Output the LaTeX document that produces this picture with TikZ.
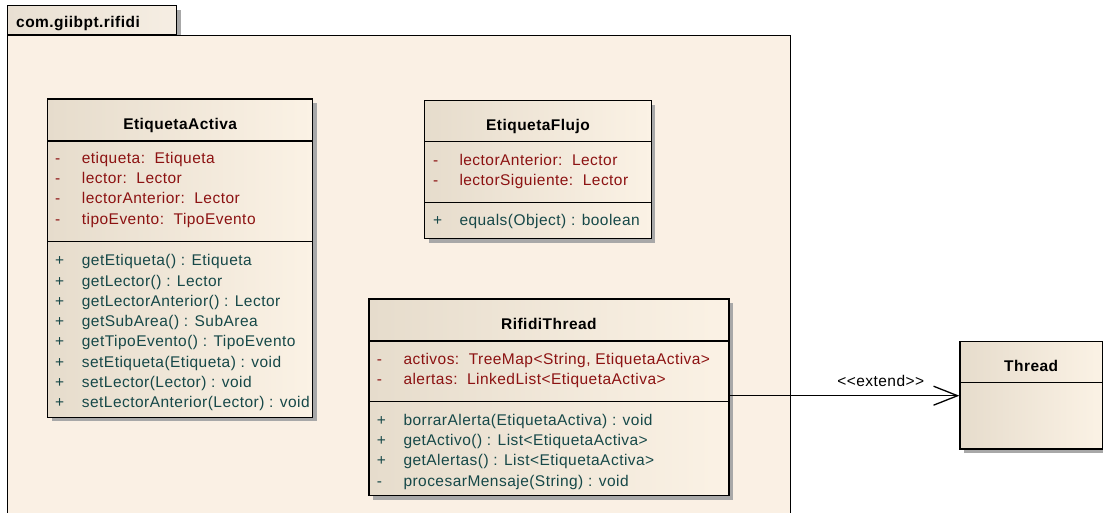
\documentclass[tikz,border=0pt]{standalone}
\usepackage{fontspec}
\setmainfont{Liberation Sans}[LetterSpace=3]
\usetikzlibrary{arrows.meta,shadows}

\definecolor{pkgfill}{RGB}{250,240,228}
\definecolor{boxleft}{RGB}{230,220,204}
\definecolor{boxright}{RGB}{251,242,229}
\definecolor{tableft}{RGB}{232,223,210}
\definecolor{tabright}{RGB}{246,238,227}
\definecolor{shadowgray}{RGB}{168,168,168}
\definecolor{attrred}{RGB}{140,18,18}
\definecolor{opteal}{RGB}{22,72,72}

\newcommand{\umlfont}{\fontsize{15.5}{18}\selectfont}

\tikzset{
  classbox/.style={draw=black, line width=1.3pt, anchor=north west,
    left color=boxleft, right color=boxright, inner sep=0pt,
    general shadow={fill=shadowgray, shadow xshift=4pt, shadow yshift=-4pt}},
  pkgbody/.style={draw=black, line width=1.3pt, fill=pkgfill, anchor=north west, inner sep=0pt},
  pkgtab/.style={draw=black, line width=1.3pt, left color=tableft, right color=tabright,
    anchor=south west, inner sep=0pt},
  sep/.style={draw=black, line width=1.3pt},
  title/.style={font=\umlfont\bfseries, anchor=base, inner sep=0pt},
  attr/.style={text=attrred, anchor=base west, inner sep=0pt},
  oper/.style={text=opteal, anchor=base west, inner sep=0pt},
  extendline/.style={draw=black, line width=1.3pt,
    -{Straight Barb[length=24pt, width=19pt, line width=1.3pt]}},
}

% one row of a compartment: visibility marker and member text
\newcommand{\umlrow}[7]{%
  \node[#7] (#1s) at (#2,#4) {#5};
  \node[#7] (#1) at (#3,#4) {#6};}

\begin{document}
\begin{tikzpicture}[x=1pt, y=-1pt, font=\umlfont]
\useasboundingbox (0,0) rectangle (1103,512);
\clip (0,0) rectangle (1103,512);

% package com.giibpt.rifidi
\fill[shadowgray] (176,10) rectangle (181,35);
\node[pkgbody, minimum width=783pt, minimum height=500pt] (pkg) at (7,35) {};
\node[pkgtab, minimum width=169pt, minimum height=29pt] (tab) at (7,35) {};
\node[anchor=base west, inner sep=0pt, font=\umlfont\bfseries] (pkgname) at (16,27.3) {com.giibpt.rifidi};

% class EtiquetaActiva
\node[classbox, minimum width=265pt, minimum height=318.5pt] (ea) at (47,98.3) {};
\draw[sep] (ea.west |- 0,141) -- (ea.east |- 0,141);
\draw[sep] (ea.west |- 0,241.7) -- (ea.east |- 0,241.7);
\node[title] (eatitle) at (ea.north |- 0,129.3) {EtiquetaActiva};
\umlrow{eaa1}{55}{81.7}{163}{-}{etiqueta:\ \ Etiqueta}{attr}
\umlrow{eaa2}{55}{81.7}{183.3}{-}{lector:\ \ Lector}{attr}
\umlrow{eaa3}{55}{81.7}{203.6}{-}{lectorAnterior:\ \ Lector}{attr}
\umlrow{eaa4}{55}{81.7}{224}{-}{tipoEvento:\ \ TipoEvento}{attr}
\umlrow{eao1}{55}{81.7}{265.7}{+}{getEtiqueta() : Etiqueta}{oper}
\umlrow{eao2}{55}{81.7}{286}{+}{getLector() : Lector}{oper}
\umlrow{eao3}{55}{81.7}{306.3}{+}{getLectorAnterior() : Lector}{oper}
\umlrow{eao4}{55}{81.7}{326.6}{+}{getSubArea() : SubArea}{oper}
\umlrow{eao5}{55}{81.7}{346.9}{+}{getTipoEvento() : TipoEvento}{oper}
\umlrow{eao6}{55}{81.7}{367.2}{+}{setEtiqueta(Etiqueta) : void}{oper}
\umlrow{eao7}{55}{81.7}{387.5}{+}{setLector(Lector) : void}{oper}
\umlrow{eao8}{55}{81.7}{407.8}{+}{setLectorAnterior(Lector) : void}{oper}

% class EtiquetaFlujo
\node[classbox, minimum width=226.7pt, minimum height=138pt] (ef) at (424,100) {};
\draw[sep] (ef.west |- 0,141.7) -- (ef.east |- 0,141.7);
\draw[sep] (ef.west |- 0,202.7) -- (ef.east |- 0,202.7);
\node[title] (eftitle) at (ef.north |- 0,130) {EtiquetaFlujo};
\umlrow{efa1}{433}{459.3}{165.7}{-}{lectorAnterior:\ \ Lector}{attr}
\umlrow{efa2}{433}{459.3}{185.7}{-}{lectorSiguiente:\ \ Lector}{attr}
\umlrow{efo1}{433}{459.3}{225.7}{+}{equals(Object) : boolean}{oper}

% class RifidiThread
\node[classbox, minimum width=360pt, minimum height=196.7pt] (rt) at (368.3,298.3) {};
\draw[sep] (rt.west |- 0,341) -- (rt.east |- 0,341);
\draw[sep] (rt.west |- 0,401.7) -- (rt.east |- 0,401.7);
\node[title] (rttitle) at (rt.north |- 0,329.3) {RifidiThread};
\umlrow{rta1}{376.7}{403.3}{364}{-}{activos:\ \ TreeMap<String, EtiquetaActiva>}{attr}
\umlrow{rta2}{376.7}{403.3}{384}{-}{alertas:\ \ LinkedList<EtiquetaActiva>}{attr}
\umlrow{rto1}{376.7}{403.3}{425}{+}{borrarAlerta(EtiquetaActiva) : void}{oper}
\umlrow{rto2}{376.7}{403.3}{445}{+}{getActivo() : List<EtiquetaActiva>}{oper}
\umlrow{rto3}{376.7}{403.3}{465.7}{+}{getAlertas() : List<EtiquetaActiva>}{oper}
\umlrow{rto4}{376.7}{403.3}{486}{-}{procesarMensaje(String) : void}{oper}

% class Thread
\node[classbox, minimum width=142.4pt, minimum height=107.6pt] (th) at (959.3,340.7) {};
\draw[sep] (th.west |- 0,382.7) -- (th.east |- 0,382.7);
\node[title] (thtitle) at (th.north |- 0,371.7) {Thread};

% generalisation RifidiThread -> Thread
\coordinate (extstart) at (rt.east |- 0,395.7);
\draw[extendline] (extstart) -- (extstart -| th.west)
  node[pos=0.658, anchor=base, yshift=9pt, inner sep=0pt] (extlabel) {{<}{<}extend{>}{>}};
\end{tikzpicture}
\end{document}
